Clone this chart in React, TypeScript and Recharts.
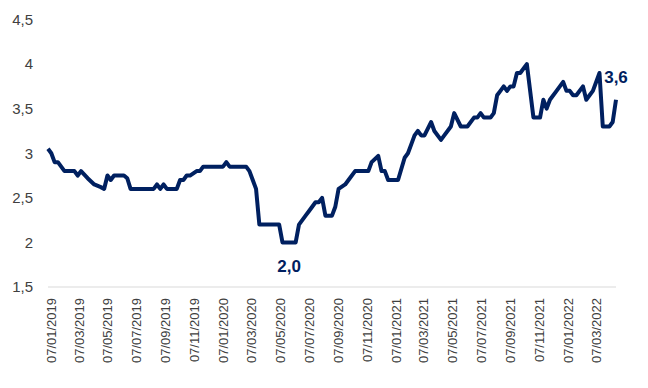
import { LineChart, Line, XAxis, YAxis, ReferenceDot } from "recharts";

const dates = [
  "07/01/2019", "14/01/2019", "21/01/2019", "28/01/2019", "11/02/2019", "04/03/2019", "11/03/2019", "18/03/2019",
  "01/04/2019", "15/04/2019", "29/04/2019", "06/05/2019", "13/05/2019", "20/05/2019", "27/05/2019", "17/06/2019",
  "24/06/2019", "01/07/2019", "19/08/2019", "26/08/2019", "02/09/2019", "09/09/2019", "16/09/2019", "07/10/2019",
  "14/10/2019", "21/10/2019", "28/10/2019", "04/11/2019", "18/11/2019", "25/11/2019", "02/12/2019", "13/01/2020",
  "20/01/2020", "27/01/2020", "02/03/2020", "09/03/2020", "16/03/2020", "23/03/2020", "30/03/2020", "11/05/2020",
  "18/05/2020", "15/06/2020", "22/06/2020", "29/06/2020", "06/07/2020", "13/07/2020", "20/07/2020", "27/07/2020",
  "03/08/2020", "10/08/2020", "17/08/2020", "31/08/2020", "07/09/2020", "14/09/2020", "28/09/2020", "05/10/2020",
  "19/10/2020", "16/11/2020", "23/11/2020", "07/12/2020", "14/12/2020", "21/12/2020", "28/12/2020", "18/01/2021",
  "01/02/2021", "08/02/2021", "15/02/2021", "22/02/2021", "01/03/2021", "08/03/2021", "15/03/2021", "29/03/2021",
  "05/04/2021", "19/04/2021", "26/04/2021", "10/05/2021", "17/05/2021", "31/05/2021", "14/06/2021", "28/06/2021",
  "05/07/2021", "12/07/2021", "19/07/2021", "02/08/2021", "09/08/2021", "16/08/2021", "23/08/2021", "30/08/2021",
  "06/09/2021", "13/09/2021", "20/09/2021", "27/09/2021", "04/10/2021", "18/10/2021", "01/11/2021", "15/11/2021",
  "22/11/2021", "29/11/2021", "06/12/2021", "20/12/2021", "03/01/2022", "10/01/2022", "17/01/2022", "24/01/2022",
  "31/01/2022", "14/02/2022", "21/02/2022", "28/02/2022", "07/03/2022", "21/03/2022", "28/03/2022", "11/04/2022",
  "18/04/2022", "25/04/2022",
];

const values = [
  3.05, 3.0, 2.9, 2.9, 2.8, 2.8, 2.75, 2.8,
  2.72, 2.65, 2.62, 2.6, 2.75, 2.7, 2.75, 2.75,
  2.72, 2.6, 2.6, 2.65, 2.6, 2.65, 2.6, 2.6,
  2.7, 2.7, 2.75, 2.75, 2.8, 2.8, 2.85, 2.85,
  2.9, 2.85, 2.85, 2.8, 2.7, 2.6, 2.2, 2.2,
  2.0, 2.0, 2.2, 2.25, 2.3, 2.35, 2.4, 2.45,
  2.45, 2.5, 2.3, 2.3, 2.4, 2.6, 2.65, 2.7,
  2.8, 2.8, 2.9, 2.97, 2.8, 2.8, 2.7, 2.7,
  2.95, 3.0, 3.1, 3.2, 3.25, 3.2, 3.2, 3.35,
  3.25, 3.15, 3.2, 3.3, 3.45, 3.3, 3.3, 3.4,
  3.4, 3.45, 3.4, 3.4, 3.45, 3.65, 3.7, 3.75,
  3.7, 3.75, 3.75, 3.9, 3.9, 4.0, 3.4, 3.4,
  3.6, 3.5, 3.6, 3.7, 3.8, 3.7, 3.7, 3.65,
  3.65, 3.75, 3.6, 3.65, 3.7, 3.9, 3.3, 3.3,
  3.35, 3.6,
];

const tickLabels = [
  "07/01/2019", "07/03/2019", "07/05/2019", "07/07/2019", "07/09/2019", "07/11/2019", "07/01/2020",
  "07/03/2020", "07/05/2020", "07/07/2020", "07/09/2020", "07/11/2020", "07/01/2021", "07/03/2021",
  "07/05/2021", "07/07/2021", "07/09/2021", "07/11/2021", "07/01/2022", "07/03/2022",
];

const yTicks = [1.5, 2, 2.5, 3, 3.5, 4, 4.5];

const noteDates = ["01/06/2020", "25/04/2022"];
const noteValues = [2.0, 3.6];
const noteTexts = ["2,0", "3,6"];

const NAVY = "#002060";
const GREY = "#404040";
const FONT = "'Liberation Sans', Arial, sans-serif";

function toTime(s: string) {
  const [d, m, y] = s.split("/").map(Number);
  return Date.UTC(y, m - 1, d);
}

function fmtDate(t: number) {
  const dt = new Date(t);
  const dd = String(dt.getUTCDate()).padStart(2, "0");
  const mm = String(dt.getUTCMonth() + 1).padStart(2, "0");
  return `${dd}/${mm}/${dt.getUTCFullYear()}`;
}

const data = dates.map((d, i) => ({ t: toTime(d), v: values[i] }));
const xTicks = tickLabels.map(toTime);

function DateTick({ x, y, payload }: any) {
  return (
    <g transform={`translate(${x + 3},${y})`}>
      <text transform="rotate(-90)" textAnchor="end" dy="0.36em" fill={GREY} fontSize={13} fontFamily={FONT}>
        {fmtDate(payload.value)}
      </text>
    </g>
  );
}

export default function App() {
  return (
    <div style={{ position: "absolute", left: 0, top: 0, background: "#fff" }}>
      <LineChart width={648} height={388} data={data} margin={{ top: 19.5, right: 32, left: 0, bottom: 0 }}>
        <XAxis
          dataKey="t"
          type="number"
          scale="time"
          domain={["dataMin", "dataMax"]}
          ticks={xTicks}
          interval={0}
          height={101}
          axisLine={{ stroke: "#d9d9d9", strokeWidth: 1 }}
          tickLine={false}
          tickSize={0}
          tickMargin={11}
          tick={<DateTick />}
        />
        <YAxis
          type="number"
          domain={[1.5, 4.5]}
          ticks={yTicks}
          interval={0}
          width={48}
          axisLine={false}
          tickLine={false}
          tickSize={0}
          tickMargin={15}
          tick={{ fill: GREY, fontSize: 15, fontFamily: FONT }}
          tickFormatter={(v: number) => String(v).replace(".", ",")}
        />
        <Line
          type="linear"
          dataKey="v"
          stroke={NAVY}
          strokeWidth={4}
          strokeLinejoin="round"
          dot={false}
          activeDot={false}
          isAnimationActive={false}
        />
        {noteTexts.map((txt, i) => (
          <ReferenceDot
            key={txt}
            x={toTime(noteDates[i])}
            y={noteValues[i]}
            r={0}
            fill="none"
            stroke="none"
            label={{
              value: txt,
              position: i === 0 ? "bottom" : "top",
              offset: i === 0 ? 18 : 17,
              fill: NAVY,
              fontSize: 17,
              fontWeight: "bold",
              fontFamily: FONT,
            }}
          />
        ))}
      </LineChart>
    </div>
  );
}
